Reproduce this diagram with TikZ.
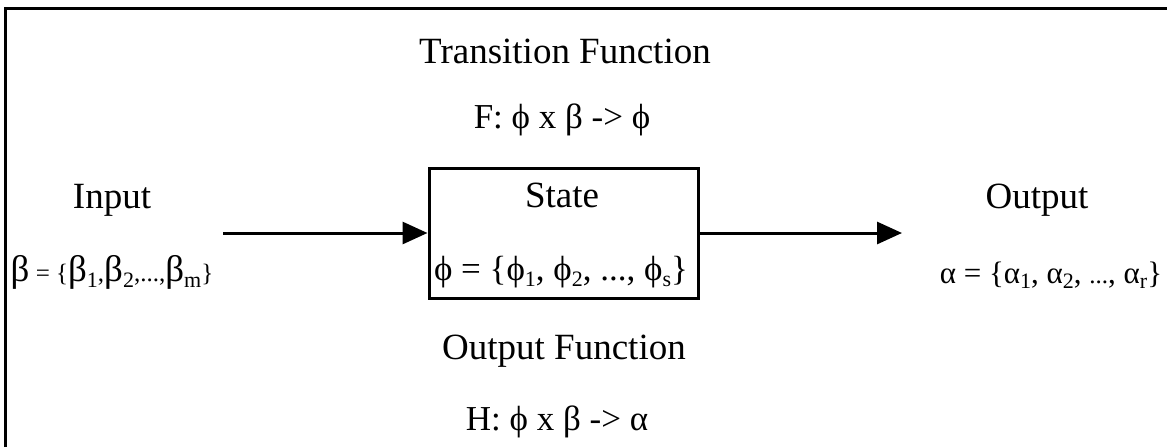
\documentclass[tikz,border=0pt]{standalone}
\usepackage{fontspec}
\setmainfont{Liberation Serif}
\usetikzlibrary{arrows.meta}
\newcommand\lowr[1]{\raisebox{-0.18em}{\fontsize{22}{22}\selectfont #1}}
\newcommand\smtxt[1]{{\fontsize{25}{25}\selectfont #1}}
\begin{document}
\begin{tikzpicture}[x=1pt,y=-1pt,
  lbl/.style={anchor=base,inner sep=0pt,font=\fontsize{37}{40}\selectfont},
  setlbl/.style={anchor=base,inner sep=0pt,font=\fontsize{35}{40}\selectfont},
  frameline/.style={line width=3pt},
  conn/.style={line width=3pt,-{Triangle[length=25pt,width=22pt]}},
  statebox/.style={draw,line width=3pt,minimum width=269pt,minimum height=130pt,inner sep=0pt}]
\useasboundingbox (0,0) rectangle (1167,447);
\draw[frameline] (5,447) -- (5,8) -- (1167,8);
\node[statebox] (state) at (563.5,233) {};
\node[lbl] (trans) at (565,63) {Transition Function};
\node[setlbl] (ffun) at (562,128) {F: ϕ x β -> ϕ};
\node[lbl] (statelbl) at (562,207) {State};
\node[setlbl] (stateset) at (561,280) {ϕ = \{ϕ\lowr{1}, ϕ\lowr{2}, ..., ϕ\lowr{s}\}};
\node[lbl] (outfun) at (564,359) {Output Function};
\node[setlbl] (hfun) at (557,430) {H: ϕ x β -> α};
\node[lbl] (input) at (112,208) {Input};
\node[setlbl,font=\fontsize{37}{40}\selectfont] (inset) at (112,281) {β\smtxt{ = \{}β\lowr{1}\smtxt{,}β\lowr{2}\smtxt{,...,}β\lowr{m}\smtxt{\}}};
\node[lbl] (output) at (1037,208) {Output};
\node[setlbl,font=\fontsize{31}{36}\selectfont] (outset) at (1051,283) {α = \{α\lowr{1}, α\lowr{2}, \smtxt{...}, α\lowr{r}\}};
\coordinate (instart) at (223,233);
\coordinate (outend) at (902,233);
\draw[conn] (instart) -- (state.west);
\draw[conn] (state.east) -- (outend);
\end{tikzpicture}
\end{document}
